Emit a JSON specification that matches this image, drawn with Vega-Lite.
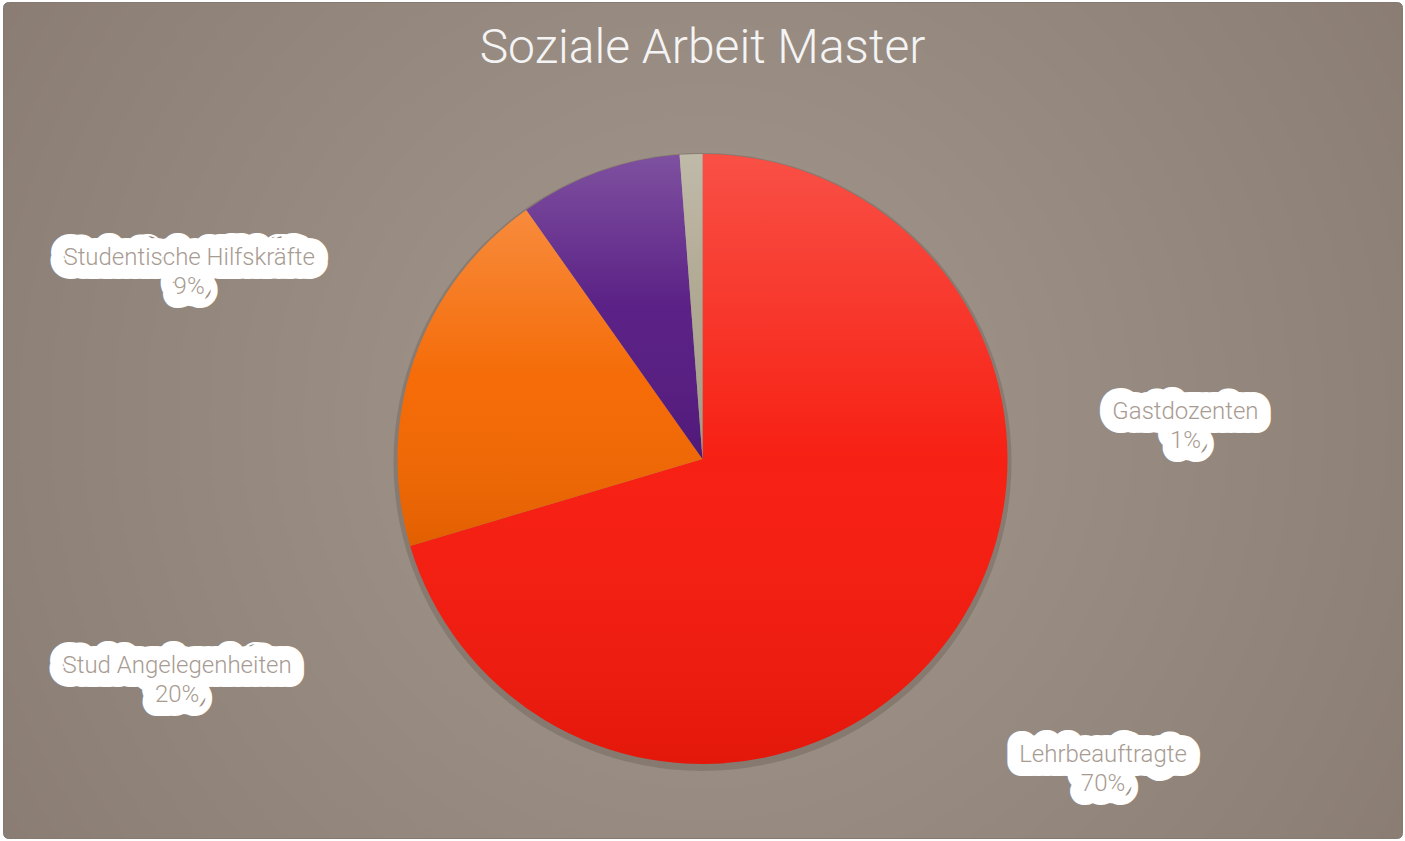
{
  "$schema": "https://vega.github.io/schema/vega-lite/v6.json",
  "width": 1405,
  "height": 841,
  "autosize": {"type": "fit", "contains": "padding"},
  "padding": {"left": 3, "top": 2, "right": 3, "bottom": 3},
  "background": "#ffffff",
  "title": {
    "text": "Soziale Arbeit Master",
    "font": "Roboto",
    "fontSize": 48,
    "fontWeight": 300,
    "color": "#f4f4f4",
    "anchor": "middle",
    "baseline": "top",
    "offset": -71
  },
  "view": {
    "stroke": "#857a72",
    "strokeWidth": 1,
    "cornerRadius": 5,
    "fill": {
      "gradient": "radial",
      "x1": 0.5, "y1": 0.5, "r1": 0,
      "x2": 0.5, "y2": 0.5, "r2": 0.71,
      "stops": [
        {"offset": 0, "color": "#a4988e"},
        {"offset": 0.7, "color": "#8e8177"},
        {"offset": 1, "color": "#84766c"}
      ]
    }
  },
  "data": {
    "values": [
      {"kategorie": "Lehrbeauftragte", "anteil": 70.4},
      {"kategorie": "Stud Angelegenheiten", "anteil": 19.8},
      {"kategorie": "Studentische Hilfskräfte", "anteil": 8.6},
      {"kategorie": "Gastdozenten", "anteil": 1.2}
    ]
  },
  "transform": [
    {"window": [{"op": "row_number", "as": "reihenfolge"}]},
    {"calculate": "[datum.kategorie, format(datum.anteil / 100, '.0%')]", "as": "beschriftung"}
  ],
  "layer": [
    {
      "mark": {"type": "arc", "radius": 309, "fill": "#3a3028", "opacity": 0.2, "y": {"expr": "height / 2 + 42"}},
      "encoding": {
        "theta": {"aggregate": "sum", "field": "anteil", "type": "quantitative"}
      }
    },
    {
      "mark": {"type": "arc", "radius": 305, "y": {"expr": "height / 2 + 39"}},
      "encoding": {
        "theta": {"field": "anteil", "type": "quantitative", "stack": true},
        "order": {"field": "reihenfolge", "type": "quantitative"},
        "color": {
          "field": "kategorie",
          "type": "nominal",
          "legend": null,
          "scale": {
            "domain": ["Lehrbeauftragte", "Stud Angelegenheiten", "Studentische Hilfskräfte", "Gastdozenten"],
            "range": ["#f7190c", "#f56700", "#561a82", "#aca58e"]
          }
        }
      }
    },
    {
      "mark": {
        "type": "arc",
        "radius": 305,
        "y": {"expr": "height / 2 + 39"},
        "fill": {
          "gradient": "linear",
          "x1": 0, "y1": 0, "x2": 0, "y2": 1,
          "stops": [
            {"offset": 0, "color": "rgba(255,255,255,0.24)"},
            {"offset": 0.5, "color": "rgba(255,255,255,0.03)"},
            {"offset": 1, "color": "rgba(0,0,0,0.08)"}
          ]
        }
      },
      "encoding": {
        "theta": {"field": "anteil", "type": "quantitative", "stack": true},
        "order": {"field": "reihenfolge", "type": "quantitative"}
      }
    },
    {
      "mark": {
        "type": "text",
        "radius": 320,
        "y": {"expr": "height / 2 + 39"},
        "font": "Roboto",
        "fontSize": 24,
        "fontWeight": 300,
        "lineHeight": 29,
        "align": "center",
        "baseline": "middle",
        "fill": "#ffffff",
        "stroke": "#ffffff",
        "strokeWidth": 28,
        "strokeJoin": "round",
        "strokeCap": "round",
        "dx": {"expr": "datum.kategorie === 'Lehrbeauftragte' ? 144 : datum.kategorie === 'Stud Angelegenheiten' ? -223 : datum.kategorie === 'Studentische Hilfskräfte' ? -405 : 495"},
        "dy": {"expr": "datum.kategorie === 'Lehrbeauftragte' ? 105 : datum.kategorie === 'Stud Angelegenheiten' ? 312 : datum.kategorie === 'Studentische Hilfskräfte' ? 100 : 273"}
      },
      "encoding": {
        "theta": {"field": "anteil", "type": "quantitative", "stack": true},
        "order": {"field": "reihenfolge", "type": "quantitative"},
        "text": {"field": "beschriftung"}
      }
    },
    {
      "mark": {
        "type": "text",
        "radius": 320,
        "y": {"expr": "height / 2 + 39"},
        "font": "Roboto",
        "fontSize": 24,
        "fontWeight": 300,
        "lineHeight": 29,
        "align": "center",
        "baseline": "middle",
        "fill": "#a89b92",
        "dx": {"expr": "datum.kategorie === 'Lehrbeauftragte' ? 144 : datum.kategorie === 'Stud Angelegenheiten' ? -223 : datum.kategorie === 'Studentische Hilfskräfte' ? -405 : 495"},
        "dy": {"expr": "datum.kategorie === 'Lehrbeauftragte' ? 105 : datum.kategorie === 'Stud Angelegenheiten' ? 312 : datum.kategorie === 'Studentische Hilfskräfte' ? 100 : 273"}
      },
      "encoding": {
        "theta": {"field": "anteil", "type": "quantitative", "stack": true},
        "order": {"field": "reihenfolge", "type": "quantitative"},
        "text": {"field": "beschriftung"}
      }
    }
  ]
}
